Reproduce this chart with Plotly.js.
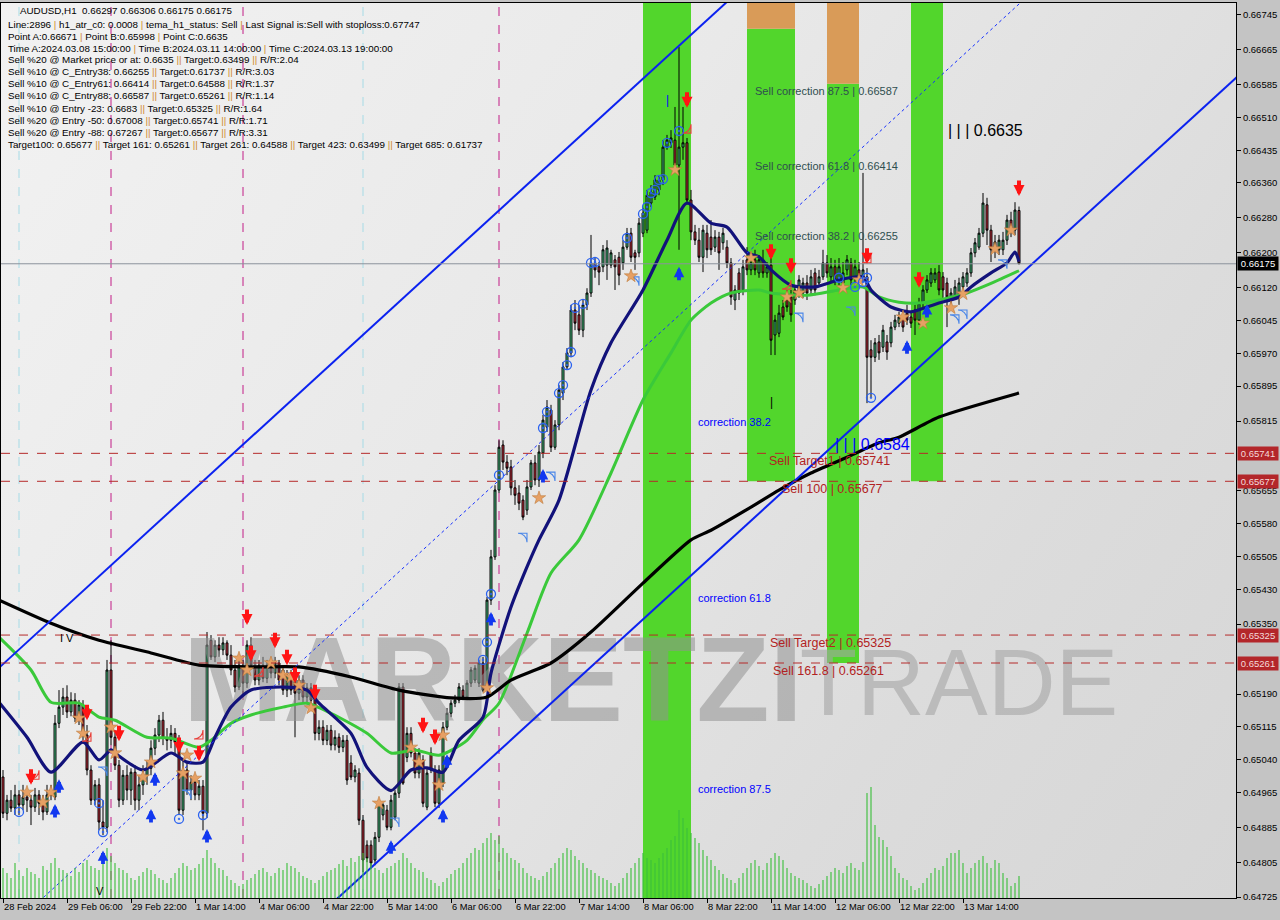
<!DOCTYPE html>
<html><head><meta charset="utf-8">
<script src="https://cdn.plot.ly/plotly-3.0.1.min.js"></script>
<style>
html,body{margin:0;padding:0;background:#c4c4c4;}
#wrap{position:relative;width:1280px;height:920px;background:#c4c4c4;overflow:hidden;}
#bg{position:absolute;left:1px;top:3px;width:1235px;height:895px;background:linear-gradient(125deg,#f2f2f2 0%,#e9e9e9 40%,#dcdcdc 75%,#d6d6d6 100%);}
#chart{position:absolute;left:0;top:0;width:1280px;height:920px;}
</style></head><body>
<div id="wrap"><div id="bg"></div><div id="chart"></div></div>
<script>
// ---------- DATA (AUDUSD H1, bar index 0 = 28 Feb 2024 14:00) ----------
const xTickVals = [0,16,32,48,64,80,96,112,128,144,160,176,192,208,224,240];
const xTickText = ['28 Feb 2024','29 Feb 06:00','29 Feb 22:00','1 Mar 14:00','4 Mar 06:00','4 Mar 22:00','5 Mar 14:00','6 Mar 06:00','6 Mar 22:00','7 Mar 14:00','8 Mar 06:00','8 Mar 22:00','11 Mar 14:00','12 Mar 06:00','12 Mar 22:00','13 Mar 14:00'];
const yTickVals = [0.66745,0.66665,0.66585,0.66510,0.66435,0.66360,0.66280,0.66200,0.66120,0.66045,0.65970,0.65895,0.65815,0.65655,0.65580,0.65505,0.65430,0.65350,0.65190,0.65115,0.65040,0.64965,0.64885,0.64805,0.64725];

const open = [0.65000,0.64917,0.64947,0.64929,0.64959,0.64936,0.64954,0.64947,0.64931,0.64959,
0.64940,0.64920,0.64959,0.64954,0.65123,0.65160,0.65183,0.65149,0.65176,0.65135,
0.65165,0.65096,0.65016,0.64947,0.64982,0.64897,0.64885,0.65245,0.65091,0.65027,
0.64947,0.65004,0.64970,0.65011,0.64947,0.64982,0.65004,0.65020,0.65066,0.65096,
0.65130,0.65089,0.65084,0.65100,0.65080,0.64924,0.65016,0.64970,0.64988,0.64959,
0.64979,0.64917,0.65313,0.65275,0.65302,0.65291,0.65307,0.65279,0.65245,0.65206,
0.65256,0.65215,0.65302,0.65256,0.65222,0.65256,0.65226,0.65256,0.65238,0.65261,
0.65245,0.65199,0.65233,0.65222,0.65192,0.65222,0.65183,0.65204,0.65183,0.65100,
0.65114,0.65084,0.65107,0.65073,0.65091,0.65068,0.65084,0.65032,0.65000,0.65009,
0.64901,0.64844,0.64844,0.64810,0.64862,0.64913,0.64924,0.64885,0.64908,0.64963,
0.65206,0.65045,0.65100,0.65055,0.65009,0.65039,0.64931,0.65055,0.65016,0.64940,
0.64986,0.65114,0.65146,0.65169,0.65176,0.65199,0.65183,0.65215,0.65222,0.65215,
0.65261,0.65206,0.65405,0.65504,0.65657,0.65760,0.65721,0.65710,0.65662,0.65650,
0.65634,0.65611,0.65664,0.65719,0.65680,0.65742,0.65801,0.65840,0.65755,0.65806,
0.65879,0.65939,0.65971,0.66069,0.66058,0.66023,0.66081,0.66108,0.66177,0.66168,
0.66168,0.66172,0.66172,0.66184,0.66190,0.66177,0.66213,0.66245,0.66200,0.66200,
0.66245,0.66252,0.66314,0.66328,0.66344,0.66367,0.66442,0.66452,0.66458,0.66401,
0.66442,0.66452,0.66321,0.66248,0.66229,0.66190,0.66245,0.66236,0.66213,0.66236,
0.66223,0.66213,0.66177,0.66092,0.66154,0.66115,0.66184,0.66161,0.66184,0.66154,
0.66184,0.66154,0.66172,0.66012,0.66016,0.66076,0.66092,0.66099,0.66092,0.66108,
0.66108,0.66131,0.66115,0.66154,0.66131,0.66145,0.66177,0.66145,0.66168,0.66138,
0.66131,0.66161,0.66177,0.66145,0.66161,0.66143,0.66145,0.65978,0.65961,0.65996,
0.65984,0.65996,0.65994,0.66030,0.66039,0.66053,0.66062,0.66053,0.66069,0.66046,
0.66085,0.66115,0.66131,0.66138,0.66156,0.66145,0.66131,0.66092,0.66099,0.66099,
0.66122,0.66131,0.66154,0.66200,0.66213,0.66245,0.66310,0.66252,0.66207,0.66207,
0.66207,0.66229,0.66275,0.66252,0.66297];
const high = [0.65016,0.64959,0.64970,0.64982,0.64970,0.64982,0.64970,0.64959,0.64975,0.64970,
0.64959,0.64982,0.64982,0.65142,0.65199,0.65204,0.65210,0.65194,0.65192,0.65176,
0.65176,0.65119,0.65027,0.64993,0.64997,0.64947,0.65268,0.65313,0.65107,0.65039,
0.65016,0.65027,0.65020,0.65027,0.65004,0.65027,0.65039,0.65084,0.65112,0.65142,
0.65149,0.65112,0.65119,0.65112,0.65096,0.65039,0.65034,0.65004,0.65004,0.64993,
0.64993,0.65332,0.65325,0.65313,0.65320,0.65320,0.65313,0.65302,0.65268,0.65268,
0.65268,0.65313,0.65320,0.65268,0.65268,0.65275,0.65268,0.65268,0.65275,0.65268,
0.65256,0.65245,0.65245,0.65233,0.65233,0.65233,0.65215,0.65215,0.65194,0.65130,
0.65130,0.65119,0.65119,0.65107,0.65100,0.65096,0.65096,0.65050,0.65027,0.65020,
0.64913,0.64855,0.64855,0.64874,0.64947,0.64940,0.64936,0.64959,0.64970,0.65215,
0.65215,0.65114,0.65114,0.65066,0.65066,0.65050,0.65020,0.65068,0.65027,0.65027,
0.65126,0.65158,0.65176,0.65188,0.65215,0.65210,0.65222,0.65252,0.65256,0.65268,
0.65275,0.65412,0.65520,0.65668,0.65771,0.65771,0.65737,0.65726,0.65680,0.65668,
0.65645,0.65680,0.65726,0.65737,0.65760,0.65829,0.65863,0.65852,0.65817,0.65897,
0.65950,0.65982,0.66081,0.66092,0.66081,0.66092,0.66119,0.66241,0.66188,0.66179,
0.66218,0.66229,0.66207,0.66195,0.66202,0.66229,0.66257,0.66257,0.66207,0.66280,
0.66303,0.66344,0.66355,0.66378,0.66378,0.66458,0.66470,0.66481,0.66534,0.66671,
0.66534,0.66463,0.66344,0.66264,0.66257,0.66264,0.66264,0.66275,0.66252,0.66248,
0.66257,0.66229,0.66188,0.66126,0.66165,0.66184,0.66213,0.66195,0.66207,0.66195,
0.66207,0.66179,0.66195,0.66058,0.66081,0.66092,0.66115,0.66115,0.66126,0.66149,
0.66143,0.66149,0.66161,0.66165,0.66161,0.66207,0.66195,0.66188,0.66184,0.66188,
0.66179,0.66195,0.66188,0.66184,0.66179,0.66383,0.66165,0.66000,0.66005,0.66012,
0.66035,0.66012,0.66042,0.66058,0.66065,0.66065,0.66081,0.66065,0.66081,0.66097,
0.66126,0.66149,0.66165,0.66165,0.66172,0.66156,0.66143,0.66119,0.66138,0.66143,
0.66156,0.66165,0.66211,0.66234,0.66257,0.66337,0.66326,0.66264,0.66241,0.66241,
0.66248,0.66287,0.66294,0.66316,0.66306];
const low = [0.64906,0.64901,0.64920,0.64913,0.64913,0.64924,0.64920,0.64890,0.64920,0.64913,
0.64901,0.64913,0.64947,0.64947,0.65112,0.65142,0.65135,0.65139,0.65126,0.65119,
0.65084,0.65004,0.64936,0.64936,0.64878,0.64867,0.64874,0.65073,0.65016,0.64931,
0.64936,0.64947,0.64936,0.64924,0.64924,0.64959,0.64982,0.65004,0.65050,0.65080,
0.65073,0.65061,0.65066,0.65050,0.64913,0.64913,0.64959,0.64947,0.64947,0.64947,
0.64878,0.64906,0.65268,0.65263,0.65275,0.65279,0.65268,0.65233,0.65194,0.65199,
0.65188,0.65204,0.65249,0.65210,0.65210,0.65217,0.65215,0.65226,0.65226,0.65210,
0.65188,0.65183,0.65188,0.65091,0.65176,0.65171,0.65171,0.65165,0.65084,0.65084,
0.65073,0.65073,0.65061,0.65061,0.65055,0.65057,0.64982,0.64993,0.64988,0.64890,
0.64782,0.64805,0.64791,0.64798,0.64851,0.64901,0.64878,0.64878,0.64901,0.64952,
0.64982,0.65034,0.65045,0.64997,0.64997,0.64931,0.64924,0.65009,0.64931,0.64929,
0.64977,0.65107,0.65137,0.65160,0.65169,0.65176,0.65176,0.65206,0.65215,0.65206,
0.65194,0.65199,0.65394,0.65497,0.65650,0.65703,0.65691,0.65645,0.65623,0.65611,
0.65588,0.65600,0.65657,0.65668,0.65664,0.65730,0.65790,0.65744,0.65749,0.65794,
0.65863,0.65932,0.65961,0.66023,0.66012,0.66007,0.66069,0.66099,0.66143,0.66126,
0.66156,0.66138,0.66165,0.66115,0.66126,0.66161,0.66207,0.66179,0.66161,0.66190,
0.66236,0.66245,0.66305,0.66321,0.66332,0.66355,0.66436,0.66440,0.66390,0.66207,
0.66413,0.66310,0.66229,0.66218,0.66179,0.66156,0.66188,0.66195,0.66202,0.66161,
0.66207,0.66165,0.66081,0.66069,0.66092,0.66103,0.66149,0.66149,0.66149,0.66143,
0.66143,0.66143,0.65966,0.65966,0.66007,0.66046,0.66065,0.66042,0.66081,0.66097,
0.66097,0.66092,0.66103,0.66103,0.66122,0.66138,0.66143,0.66131,0.66126,0.66126,
0.66115,0.66149,0.66126,0.66133,0.66133,0.66133,0.65856,0.65870,0.65950,0.65955,
0.65973,0.65955,0.65984,0.66023,0.66030,0.66019,0.66035,0.66028,0.66012,0.66035,
0.66076,0.66108,0.66122,0.66131,0.66103,0.66097,0.66030,0.66081,0.66092,0.66081,
0.66115,0.66122,0.66145,0.66190,0.66207,0.66236,0.66218,0.66179,0.66188,0.66195,
0.66195,0.66218,0.66236,0.66241,0.66175];
const close = [0.64917,0.64947,0.64929,0.64959,0.64936,0.64954,0.64947,0.64931,0.64959,0.64940,
0.64920,0.64959,0.64970,0.65123,0.65160,0.65183,0.65149,0.65176,0.65135,0.65165,
0.65096,0.65016,0.64947,0.64982,0.64897,0.64885,0.65245,0.65091,0.65027,0.64947,
0.65004,0.64970,0.65011,0.64947,0.64982,0.65004,0.65020,0.65066,0.65096,0.65130,
0.65089,0.65084,0.65100,0.65080,0.64924,0.65016,0.64970,0.64988,0.64959,0.64979,
0.64917,0.65302,0.65275,0.65302,0.65291,0.65307,0.65279,0.65245,0.65206,0.65256,
0.65215,0.65302,0.65256,0.65222,0.65256,0.65226,0.65256,0.65238,0.65261,0.65222,
0.65199,0.65233,0.65199,0.65192,0.65222,0.65183,0.65204,0.65176,0.65100,0.65114,
0.65084,0.65107,0.65073,0.65091,0.65068,0.65084,0.64993,0.65000,0.65016,0.64901,
0.64810,0.64814,0.64803,0.64862,0.64940,0.64936,0.64885,0.64947,0.64963,0.65206,
0.64986,0.65100,0.65055,0.65009,0.65055,0.64940,0.65009,0.65016,0.64940,0.65016,
0.65114,0.65146,0.65169,0.65176,0.65206,0.65183,0.65215,0.65245,0.65249,0.65261,
0.65199,0.65405,0.65504,0.65657,0.65755,0.65721,0.65707,0.65662,0.65645,0.65627,
0.65595,0.65664,0.65719,0.65680,0.65744,0.65817,0.65847,0.65755,0.65806,0.65886,
0.65939,0.65971,0.66069,0.66039,0.66023,0.66081,0.66108,0.66177,0.66161,0.66156,
0.66207,0.66211,0.66200,0.66168,0.66149,0.66213,0.66245,0.66190,0.66190,0.66268,
0.66291,0.66332,0.66339,0.66367,0.66367,0.66442,0.66458,0.66463,0.66401,0.66442,
0.66452,0.66321,0.66248,0.66229,0.66190,0.66252,0.66207,0.66207,0.66236,0.66200,
0.66245,0.66177,0.66099,0.66115,0.66108,0.66168,0.66161,0.66177,0.66161,0.66184,
0.66154,0.66168,0.66000,0.66046,0.66062,0.66053,0.66076,0.66058,0.66115,0.66138,
0.66131,0.66108,0.66145,0.66115,0.66145,0.66177,0.66154,0.66168,0.66138,0.66168,
0.66154,0.66184,0.66138,0.66168,0.66145,0.66161,0.65961,0.65961,0.65994,0.65971,
0.66023,0.65973,0.66030,0.66046,0.66053,0.66030,0.66046,0.66039,0.66046,0.66085,
0.66115,0.66138,0.66154,0.66154,0.66115,0.66115,0.66099,0.66108,0.66122,0.66131,
0.66145,0.66154,0.66200,0.66223,0.66245,0.66314,0.66252,0.66207,0.66225,0.66229,
0.66229,0.66275,0.66252,0.66298,0.66175];
const volume = [600,500,400,700,560,440,600,520,480,400,640,560,700,
800,600,560,500,440,600,520,700,760,640,600,560,900,
1000,840,700,600,560,500,400,360,440,520,600,560,480,400,360,300,400,500,600,700,640,560,600,680,800,
960,800,700,600,560,440,360,300,240,280,360,400,480,560,600,520,440,500,600,560,700,640,600,520,440,
400,360,300,360,440,520,560,600,680,760,640,800,720,840,900,800,700,600,560,500,600,640,700,760,900,
800,700,600,560,520,400,360,300,240,320,400,480,560,600,700,800,900,1000,960,1100,1200,1300,1160,1240,1000,
900,800,760,700,600,500,440,400,360,440,520,600,700,800,900,1000,960,840,760,700,600,560,500,440,400,
360,300,240,300,400,500,600,700,800,900,800,760,700,800,900,1000,1160,1240,1760,1600,1400,1300,1200,1100,960,
840,760,640,560,480,400,360,300,400,500,600,700,760,640,560,700,800,900,840,760,600,500,440,400,360,
300,240,200,280,360,440,520,600,560,500,640,700,600,560,720,2100,2220,1460,1220,1160,1020,840,600,500,400,
360,240,160,200,300,400,500,600,560,640,800,900,900,960,700,500,600,700,760,840,700,600,760,700,500,
400,240,300,440];

// moving averages (bar index, price)
const maBlackX = [-1,12,24,37,49,62,74,87,99,112,121,127,137,147,160,172,177,187,194,202,211,219,224,234,254];
const maBlackY = [0.65405,0.65352,0.65313,0.65284,0.65256,0.65252,0.65252,0.65229,0.65199,0.65181,0.65183,0.65222,0.65261,0.65332,0.65444,0.65543,0.65565,0.65618,0.65657,0.65696,0.65732,0.65765,0.65778,0.65824,0.65879];
const maNavyX = [-1,6,12,20,24,27,28,35,42,46,50,53,57,62,70,76,79,87,91,97,102,106,110,114,120,122,127,131,134,139,147,152,160,166,171,177,181,186,189,192,197,203,209,215,217,222,227,231,234,239,242,247,251,253,254];
const maNavyY = [0.65171,0.65091,0.65011,0.65080,0.65039,0.65062,0.65055,0.65016,0.65055,0.65034,0.65034,0.65091,0.65160,0.65199,0.65206,0.65199,0.65169,0.65100,0.65022,0.64969,0.65016,0.65021,0.65011,0.65084,0.65137,0.65238,0.65389,0.65481,0.65543,0.65634,0.65886,0.65994,0.66115,0.66229,0.66314,0.66268,0.66259,0.66200,0.66191,0.66161,0.66126,0.66122,0.66138,0.66145,0.66115,0.66076,0.66065,0.66076,0.66085,0.66099,0.66122,0.66154,0.66177,0.66202,0.66180];
const maGreenX = [-1,7,12,19,24,28,36,42,49,52,57,62,70,76,82,91,97,103,109,116,120,124,131,137,144,152,160,167,172,177,182,189,192,201,209,215,219,224,229,234,241,247,254];
const maGreenY = [0.65320,0.65245,0.65171,0.65169,0.65137,0.65130,0.65091,0.65089,0.65068,0.65084,0.65123,0.65142,0.65160,0.65169,0.65146,0.65100,0.65055,0.65062,0.65050,0.65084,0.65131,0.65169,0.65329,0.65467,0.65543,0.65696,0.65863,0.65971,0.66046,0.66085,0.66108,0.66115,0.66108,0.66103,0.66115,0.66122,0.66099,0.66087,0.66085,0.66092,0.66108,0.66130,0.66159];

// trend channel anchors (bar index, price)
const chanUpperX = [-1,182], chanUpperY = [0.65250,0.66783];
const chanLowerX = [83,309], chanLowerY = [0.64717,0.66607];
const chanMidX = [9,255], chanMidY = [0.64715,0.66778];

// coloured zones: bar index start/end, green from..to, orange cap
const zoneStart = [160,186,206,227];
const zoneEnd   = [172,198,214,235];
const zoneLow   = [0.6470,0.65677,0.65261,0.65677];
const zoneGreenTop = [0.6680,0.66713,0.66587,0.6680];
const zoneOrangeTop = [null,0.6680,0.6680,null];

// levels
const sellLevels = [0.65741,0.65677,0.65325,0.65261];
const sellLabels = ['Sell Target1 | 0.65741','Sell 100 | 0.65677','Sell Target2 | 0.65325','Sell 161.8 | 0.65261'];
const sellLabelX = [191,194.25,191.25,192];
const corrLevels = [0.66587,0.66414,0.66255];
const corrLabels = ['Sell correction 87.5 | 0.66587','Sell correction 61.8 | 0.66414','Sell correction 38.2 | 0.66255'];
const lastPrice = 0.66175;
const vMagenta = [27,60,124,169];
const vCyan = [4,90];

// signals
const redArrowX = [7,21,29,44,49,61,62,68,71,73,78,105,108,171,192,197,216,229,254];
const redArrowY = [0.64982,0.65130,0.65082,0.65055,0.65036,0.65348,0.65265,0.65295,0.65256,0.65215,0.65176,0.65100,0.65073,0.66532,0.66184,0.66152,0.66175,0.66120,0.66330];
const blueArrowX = [13,14,25,37,38,51,97,110,111,122,135,169,226,231];
const blueArrowY = [0.64938,0.64995,0.64832,0.64927,0.65011,0.64881,0.64855,0.64927,0.65052,0.65378,0.65705,0.66168,0.66000,0.66083];
const starX = [6,10,12,19,20,27,28,35,37,45,46,48,59,61,67,70,72,74,77,94,102,104,109,110,121,134,157,168,187,196,199,210,214,225,230,237,240,248,252];
const starY = [0.64965,0.64942,0.64965,0.65135,0.65100,0.65114,0.65055,0.65000,0.65034,0.65009,0.65050,0.64997,0.65272,0.65245,0.65261,0.65233,0.65229,0.65210,0.65158,0.64940,0.65068,0.65034,0.64982,0.65096,0.65204,0.65639,0.66147,0.66390,0.66188,0.66099,0.66108,0.66120,0.66138,0.66053,0.66039,0.66074,0.66106,0.66209,0.66252];
const circleX = [4,24,25,44,50,120,121,122,124,135,136,139,140,141,142,143,145,147,148,156,160,161,162,163,164,165,166,169,209,213,215,216,217];
const circleY = [0.64920,0.64940,0.64874,0.64904,0.64913,0.65268,0.65309,0.65419,0.65691,0.65799,0.65836,0.65879,0.65897,0.65943,0.65973,0.66074,0.66083,0.66177,0.66179,0.66234,0.66289,0.66305,0.66337,0.66344,0.66367,0.66369,0.66452,0.66479,0.66143,0.66122,0.66133,0.66143,0.65868];
const hollowUpX = [26,47,99,131,138,159,200,213,239,241,251];
const hollowUpY = [0.65023,0.64970,0.64906,0.65558,0.65698,0.66145,0.66062,0.66076,0.66058,0.66069,0.66184];
const hollowDnX = [9,22,50,65,172,197,217];
const hollowDnY = [0.64995,0.65082,0.65087,0.65231,0.66474,0.66117,0.66177];

const infoLines = [
 'AUDUSD,H1  0.66297 0.66306 0.66175 0.66175',
 'Line:2896 | h1_atr_c0: 0.0008 | tema_h1_status: Sell | Last Signal is:Sell with stoploss:0.67747',
 'Point A:0.66671 | Point B:0.65998 | Point C:0.6635',
 'Time A:2024.03.08 15:00:00 | Time B:2024.03.11 14:00:00 | Time C:2024.03.13 19:00:00',
 'Sell %20 @ Market price or at: 0.6635 || Target:0.63499 || R/R:2.04',
 'Sell %10 @ C_Entry38: 0.66255 || Target:0.61737 || R/R:3.03',
 'Sell %10 @ C_Entry61: 0.66414 || Target:0.64588 || R/R:1.37',
 'Sell %10 @ C_Entry88: 0.66587 || Target:0.65261 || R/R:1.14',
 'Sell %10 @ Entry -23: 0.6683 || Target:0.65325 || R/R:1.64',
 'Sell %20 @ Entry -50: 0.67008 || Target:0.65741 || R/R:1.71',
 'Sell %20 @ Entry -88: 0.67267 || Target:0.65677 || R/R:3.31',
 'Target100: 0.65677 || Target 161: 0.65261 || Target 261: 0.64588 || Target 423: 0.63499 || Target 685: 0.61737'
];

// ---------- BUILD ----------
const FS = '"Liberation Sans",Arial,sans-serif';
const W = 1280, H = 920, ML = 1, MR = 44, MT = 3, MB = 22;
const PW = W - ML - MR, PH = H - MT - MB;
const px2paperX = p => (p - ML) / PW;
const px2paperY = p => (H - MB - p) / PH;
const barIdx = open.map((_, i) => i);

const traces = [];
// watermark text (behind everything)
traces.push({type:'scatter', mode:'text', x:[122.5], y:[0.65196], text:['<b>MARKETZI</b>'],
  textfont:{family:FS, size:120, color:'rgba(145,145,145,0.55)'}, hoverinfo:'skip', cliponaxis:false});
traces.push({type:'scatter', mode:'text', x:[239], y:[0.65196], text:['TRADE'],
  textfont:{family:FS, size:94, color:'rgba(165,165,165,0.6)'}, hoverinfo:'skip', cliponaxis:false});

// zones (green with orange caps)
const zx = [], zw = [], zb = [], zh = [], ox = [], ow = [], ob = [], oh = [];
zoneStart.forEach((s, i) => {
  zx.push((s + zoneEnd[i]) / 2); zw.push(zoneEnd[i] - s);
  zb.push(zoneLow[i]); zh.push(zoneGreenTop[i] - zoneLow[i]);
  if (zoneOrangeTop[i] !== null) {
    ox.push((s + zoneEnd[i]) / 2); ow.push(zoneEnd[i] - s);
    ob.push(zoneGreenTop[i]); oh.push(zoneOrangeTop[i] - zoneGreenTop[i]);
  }
});
traces.push({type:'bar', x:zx, y:zh, base:zb, width:zw, marker:{color:'#52d62c', line:{width:0}}, hoverinfo:'skip'});
traces.push({type:'bar', x:ox, y:oh, base:ob, width:ow, marker:{color:'#d99b58', line:{width:0}}, hoverinfo:'skip'});

// volume
traces.push({type:'bar', x:barIdx, y:volume, yaxis:'y2', width:0.28, marker:{color:'#3cbf3c', line:{width:0}}, hoverinfo:'skip'});

// candles
traces.push({type:'candlestick', x:barIdx, open:open, high:high, low:low, close:close,
  increasing:{line:{color:'#000000', width:1}, fillcolor:'#4cd08a'},
  decreasing:{line:{color:'#000000', width:1}, fillcolor:'#d3303f'},
  whiskerwidth:0, hoverinfo:'skip'});

// moving averages
traces.push({type:'scatter', mode:'lines', x:maGreenX, y:maGreenY, line:{color:'#3ac93a', width:3, shape:'spline', smoothing:0.7}, hoverinfo:'skip'});
traces.push({type:'scatter', mode:'lines', x:maNavyX, y:maNavyY, line:{color:'#12127a', width:3.2, shape:'spline', smoothing:0.7}, hoverinfo:'skip'});
traces.push({type:'scatter', mode:'lines', x:maBlackX, y:maBlackY, line:{color:'#000000', width:3.2, shape:'spline', smoothing:0.6}, hoverinfo:'skip'});

// channel
traces.push({type:'scatter', mode:'lines', x:chanUpperX, y:chanUpperY, line:{color:'#0b22f0', width:2}, hoverinfo:'skip'});
traces.push({type:'scatter', mode:'lines', x:chanLowerX, y:chanLowerY, line:{color:'#0b22f0', width:2}, hoverinfo:'skip'});
traces.push({type:'scatter', mode:'lines', x:chanMidX, y:chanMidY, line:{color:'#1530ff', width:1, dash:'dot'}, hoverinfo:'skip'});

// markers
traces.push({type:'scatter', mode:'markers', x:hollowUpX, y:hollowUpY, marker:{symbol:'arrow-wide-open', angle:45, size:9, color:'#4a86e8', line:{width:1.1, color:'#4a86e8'}}, hoverinfo:'skip'});
traces.push({type:'scatter', mode:'markers', x:hollowDnX, y:hollowDnY, marker:{symbol:'arrow-wide-open', angle:135, size:9, color:'#e8403a', line:{width:1.1, color:'#e8403a'}}, hoverinfo:'skip'});
traces.push({type:'scatter', mode:'markers', x:starX, y:starY, marker:{symbol:'star', size:10, color:'#e6a064', line:{width:0.6, color:'#c07a3a'}}, hoverinfo:'skip'});
traces.push({type:'scatter', mode:'markers', x:circleX, y:circleY, marker:{symbol:'circle-open-dot', size:9, color:'#2a62f0', line:{width:1.3, color:'#2a62f0'}}, hoverinfo:'skip'});

// shapes
const shapes = [];
sellLevels.forEach(v => shapes.push({type:'line', xref:'paper', x0:0, x1:1, yref:'y', y0:v, y1:v, line:{color:'#b52a2a', width:1, dash:'dash'}, layer:'above'}));
shapes.push({type:'line', xref:'paper', x0:0, x1:1, yref:'y', y0:lastPrice, y1:lastPrice, line:{color:'#8c939c', width:1}, layer:'above'});
vMagenta.forEach(v => shapes.push({type:'line', xref:'x', x0:v, x1:v, yref:'paper', y0:0, y1:1, line:{color:'#c21c86', width:1, dash:'dash'}, layer:'below'}));
vCyan.forEach(v => shapes.push({type:'line', xref:'x', x0:v, x1:v, yref:'paper', y0:0, y1:1, line:{color:'#a6dbe6', width:1, dash:'dash'}, layer:'below'}));

// annotations
const ann = [];
const sep = s => s.replace(/\|\|/g, '<span style="color:#d08a2c">||</span>').replace(/ \| /g, ' <span style="color:#d08a2c">|</span> ');
const infoY = [11,24,36,48,60,72,84,96,108,120,132,144];
infoLines.forEach((t, i) => ann.push({xref:'paper', yref:'paper', x:px2paperX(i === 0 ? 18 : 6), y:px2paperY(infoY[i]), xanchor:'left', yanchor:'middle', text:sep(t), showarrow:false, font:{family:FS, size:9.8, color:'#000'}}));
corrLevels.forEach((v, i) => ann.push({x:187.5, y:v, xanchor:'left', yanchor:'top', yshift:1, text:corrLabels[i], showarrow:false, font:{family:FS, size:11, color:'#2f4f4f'}}));
sellLevels.forEach((v, i) => ann.push({x:sellLabelX[i], y:v, xanchor:'left', yanchor:'top', yshift:1, text:sellLabels[i], showarrow:false, font:{family:FS, size:12.5, color:'#b22222'}}));
[['correction 38.2',0.65813],['correction 61.8',0.65410],['correction 87.5',0.64972]].forEach(c => ann.push({x:173.25, y:c[1], xanchor:'left', yanchor:'middle', text:c[0], showarrow:false, font:{family:FS, size:11, color:'#0000ff'}}));
ann.push({x:235.75, y:0.66479, xanchor:'left', yanchor:'middle', text:'| | | 0.6635', showarrow:false, font:{family:FS, size:16, color:'#000'}});
ann.push({x:207.5, y:0.65762, xanchor:'left', yanchor:'middle', text:'| | | 0.6584', showarrow:false, font:{family:FS, size:16, color:'#0000ff'}});
ann.push({x:16, y:0.65318, xanchor:'center', yanchor:'middle', text:'I V', showarrow:false, font:{family:FS, size:11, color:'#000'}});
ann.push({x:24.3, y:0.64738, xanchor:'center', yanchor:'middle', text:'V', showarrow:false, font:{family:FS, size:11, color:'#000'}});
ann.push({x:166, y:0.66551, xanchor:'center', yanchor:'middle', text:'|', showarrow:false, font:{family:FS, size:12, color:'#0000ff'}});
ann.push({x:192, y:0.65858, xanchor:'center', yanchor:'middle', text:'|', showarrow:false, font:{family:FS, size:12, color:'#000'}});
// red / blue signal arrows (tail offset in px, tip at the data point)
redArrowX.forEach((x, i) => ann.push({x:x, y:redArrowY[i], ax:0, ay:-17, showarrow:true, arrowhead:2, arrowsize:0.55, arrowwidth:4, arrowcolor:'#ff1414', text:'', standoff:0, startstandoff:0}));
blueArrowX.forEach((x, i) => ann.push({x:x, y:blueArrowY[i], ax:0, ay:15, showarrow:true, arrowhead:2, arrowsize:0.55, arrowwidth:3.8, arrowcolor:'#1238f0', text:'', standoff:0, startstandoff:0}));
// right-axis price tags
sellLevels.forEach(v => ann.push({xref:'paper', x:1, xanchor:'left', xshift:1, y:v, yanchor:'middle', text:v.toFixed(5), showarrow:false, bgcolor:'#b3262a', width:38, borderpad:1, font:{family:FS, size:9.5, color:'#f4dada'}}));
ann.push({xref:'paper', x:1, xanchor:'left', xshift:1, y:lastPrice, yanchor:'middle', text:lastPrice.toFixed(5), showarrow:false, bgcolor:'#000000', width:38, borderpad:1, font:{family:FS, size:9.5, color:'#ffffff'}});

const layout = {
  width:W, height:H, margin:{l:ML, r:MR, t:MT, b:MB, pad:0},
  paper_bgcolor:'rgba(0,0,0,0)', plot_bgcolor:'rgba(0,0,0,0)',
  showlegend:false, barmode:'overlay', dragmode:false, hovermode:false,
  xaxis:{range:[-0.5,308.25], tickmode:'array', tickvals:xTickVals, ticktext:xTickText, tickangle:0, ticks:'outside', ticklen:4, tickcolor:'#000',
    ticklabelposition:'outside right', showgrid:false, zeroline:false, showline:true, linecolor:'#000', linewidth:1, mirror:true,
    tickfont:{family:FS, size:9.3, color:'#000'}, rangeslider:{visible:false}, fixedrange:true, automargin:false},
  yaxis:{range:[0.64723,0.66772], side:'right', tickmode:'array', tickvals:yTickVals, tickformat:'.5f', ticks:'outside', ticklen:4, tickcolor:'#000',
    showgrid:false, zeroline:false, showline:true, linecolor:'#000', linewidth:1, mirror:true,
    tickfont:{family:FS, size:9.5, color:'#000'}, fixedrange:true, automargin:false},
  yaxis2:{overlaying:'y', range:[0,17900], visible:false, fixedrange:true},
  shapes:shapes, annotations:ann
};
Plotly.newPlot('chart', traces, layout, {staticPlot:true, displayModeBar:false});
</script></body></html>
